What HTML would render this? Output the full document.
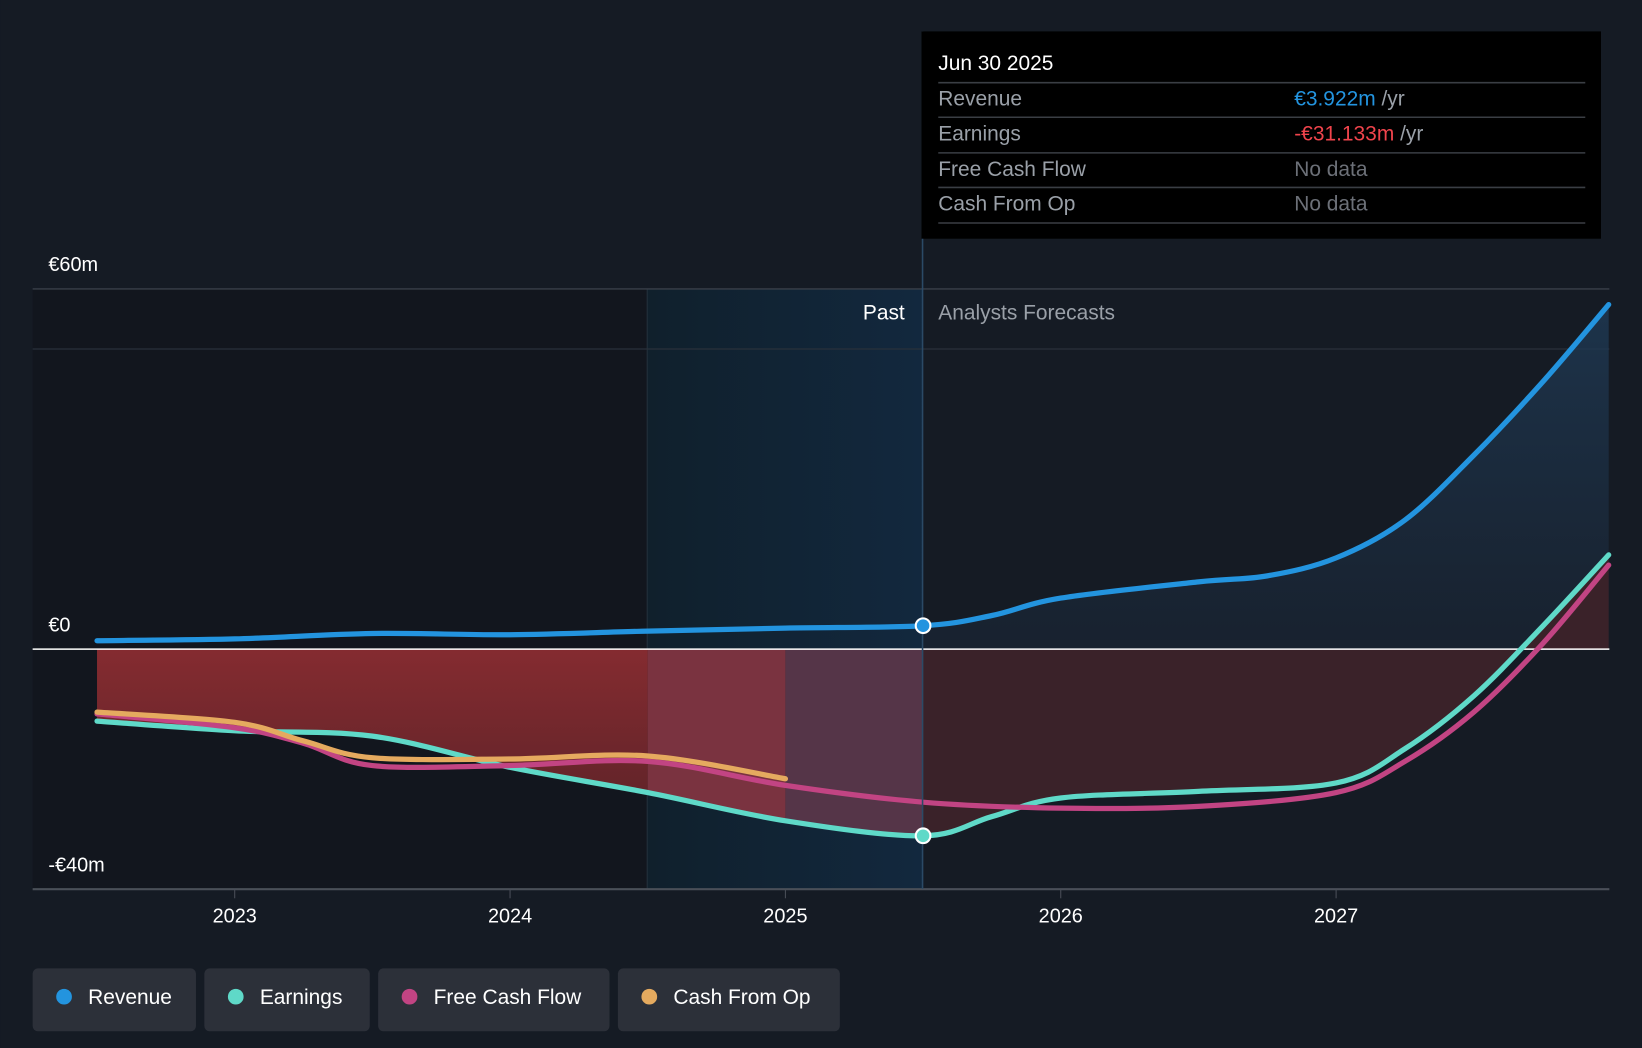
<!DOCTYPE html>
<html><head><meta charset="utf-8"><style>
html,body{margin:0;padding:0;background:#151b24;}
svg{display:block;font-family:"Liberation Sans",sans-serif;}
</style></head><body>
<svg id="chart" width="1642" height="1048" viewBox="0 0 1568 1001">
<defs>
<linearGradient id="redg" x1="0" y1="0" x2="0" y2="1"><stop offset="0" stop-color="#9a3034"/><stop offset="1" stop-color="#5a2228"/></linearGradient>
<linearGradient id="blueg" x1="0" y1="0" x2="0" y2="1"><stop offset="0" stop-color="#1f3a55" stop-opacity="0.8"/><stop offset="1" stop-color="#1a2636" stop-opacity="0.6"/></linearGradient>
<linearGradient id="hl" x1="0" y1="0" x2="1" y2="0"><stop offset="0" stop-color="#10202c"/><stop offset="1" stop-color="#12283e"/></linearGradient>
</defs>
<rect x="0" y="0" width="1568" height="1001" fill="#151b24"/>
<rect x="31" y="276" width="587" height="573" fill="#12161e"/>
<rect x="618" y="276" width="263" height="573" fill="url(#hl)"/>
<line x1="618" y1="276" x2="618" y2="849" stroke="#23303c"/>
<g id="grid"></g>
<g id="areas"></g>
<g id="lines"></g>
<line x1="881" y1="30" x2="881" y2="849" stroke="#2b4a66" stroke-width="1.5"/>
<g id="dots"></g>
<text x="864" y="305" fill="#ffffff" font-size="20" text-anchor="end">Past</text>
<text x="896" y="305" fill="#9aa0a8" font-size="20">Analysts Forecasts</text>
<g>
<rect x="880" y="30" width="649" height="198" fill="#000000"/>
<text x="896" y="67" fill="#ffffff" font-size="20">Jun 30 2025</text>
<line x1="896" y1="79" x2="1514" y2="79" stroke="#3a3e44" stroke-width="1.5"/>
<text x="896" y="101" fill="#9aa0a8" font-size="20">Revenue</text>
<text x="1236" y="101" font-size="20"><tspan fill="#2394df">€3.922m</tspan><tspan fill="#9aa0a8"> /yr</tspan></text>
<line x1="896" y1="112" x2="1514" y2="112" stroke="#3a3e44" stroke-width="1.5"/>
<text x="896" y="134" fill="#9aa0a8" font-size="20">Earnings</text>
<text x="1236" y="134" font-size="20"><tspan fill="#f0444c">-€31.133m</tspan><tspan fill="#9aa0a8"> /yr</tspan></text>
<line x1="896" y1="146" x2="1514" y2="146" stroke="#3a3e44" stroke-width="1.5"/>
<text x="896" y="168" fill="#9aa0a8" font-size="20">Free Cash Flow</text>
<text x="1236" y="168" fill="#6c7078" font-size="20">No data</text>
<line x1="896" y1="179" x2="1514" y2="179" stroke="#3a3e44" stroke-width="1.5"/>
<text x="896" y="201" fill="#9aa0a8" font-size="20">Cash From Op</text>
<text x="1236" y="201" fill="#6c7078" font-size="20">No data</text>
<line x1="896" y1="213" x2="1514" y2="213" stroke="#3a3e44" stroke-width="1.5"/>
</g>
<g id="legend"></g>
</svg>
<script>
const yearTicks=[2023,2024,2025,2026,2027];
const yTickVals=[60,0,-40];
const yTickLabels=["€60m","€0","-€40m"];
const revYears=[2022.5,2023,2023.5,2024,2024.5,2025,2025.5,2025.75,2026,2026.5,2026.75,2027,2027.25,2027.5,2027.75,2027.99];
const revVals=[1.4,1.7,2.6,2.4,3.0,3.5,3.9,5.6,8.5,11.2,12.2,15.2,21.5,32.3,44.5,57.4];
const earnYears=[2022.5,2023,2023.5,2024,2024.5,2025,2025.5,2025.75,2026,2026.5,2027,2027.25,2027.5,2027.75,2027.99];
const earnVals=[-12,-13.6,-14.5,-19.7,-23.9,-28.6,-31.1,-27.9,-24.8,-23.7,-22.3,-16.6,-7.8,3.8,15.7];
const fcfYears=[2022.5,2023,2023.25,2023.5,2024,2024.5,2025,2025.5,2026,2026.5,2027,2027.25,2027.5,2027.75,2027.99];
const fcfVals=[-10.8,-13.1,-15.7,-19.4,-19.4,-18.7,-22.7,-25.5,-26.5,-26.2,-23.9,-18.7,-10.5,0.9,14];
const cfoYears=[2022.5,2023,2023.25,2023.5,2024,2024.5,2025];
const cfoVals=[-10.5,-12.2,-15.3,-18.1,-18.3,-17.8,-21.6];
const X=y=>224+(y-2023)*263;
const Y=v=>620-v*(344/60);
const NS="http://www.w3.org/2000/svg";
function mk(tag,attrs,parent){const e=document.createElementNS(NS,tag);for(const k in attrs)e.setAttribute(k,attrs[k]);parent.appendChild(e);return e;}
function path(xs,vs){const p=xs.map((x,i)=>[X(x),Y(vs[i])]);let d="M"+p[0][0]+","+p[0][1];
for(let i=0;i<p.length-1;i++){const p0=p[i-1]||p[i],p1=p[i],p2=p[i+1],p3=p[i+2]||p2;
const c1=[p1[0]+(p2[0]-p0[0])/6,p1[1]+(p2[1]-p0[1])/6],c2=[p2[0]-(p3[0]-p1[0])/6,p2[1]-(p3[1]-p1[1])/6];
d+=` C${c1[0]},${c1[1]} ${c2[0]},${c2[1]} ${p2[0]},${p2[1]}`;}return d;}
const grid=document.getElementById('grid');
yTickVals.forEach((v,i)=>{
 if(v!==0){const l=mk('line',{x1:31,x2:1537,y1:Y(v),y2:Y(v),stroke:v<0?'#4a4f58':'#3a4049','stroke-width':v<0?2:1.3},grid);
 
 }
 const t=mk('text',{x:46,y:Y(v)-17,fill:'#ffffff','font-size':19},grid);t.textContent=yTickLabels[i];
 
 
});
const g50=mk('line',{x1:31,x2:1537,y1:Y(50),y2:Y(50),stroke:'#2a313b','stroke-width':1.2},grid);


yearTicks.forEach(yr=>{mk('line',{x1:X(yr),x2:X(yr),y1:849,y2:858,stroke:'#4a4f58'},grid);
 const t=mk('text',{x:X(yr),y:881,fill:'#ffffff','font-size':19,'text-anchor':'middle'},grid);t.textContent=yr;
 
 });
const areas=document.getElementById('areas');
// revenue forecast area
const ri=revYears.indexOf(2025.5);
const ra=mk('path',{d:path(revYears.slice(ri),revVals.slice(ri))+` L${X(revYears[revYears.length-1])},${Y(0)} L${X(2025.5)},${Y(0)} Z`,fill:'url(#blueg)'},areas);


// earnings area
const ea=mk('path',{d:path(earnYears,earnVals)+` L${X(earnYears[earnYears.length-1])},${Y(0)} L${X(earnYears[0])},${Y(0)} Z`,fill:'#3a2229'},areas);


const cp=mk('clipPath',{id:'pastclip'},areas);mk('rect',{x:0,y:0,width:X(2024.5),height:1001},cp);
const cp2=mk('clipPath',{id:'midclip'},areas);mk('rect',{x:X(2024.5),y:0,width:263*0.5,height:1001},cp2);
const cp3=mk('clipPath',{id:'lateclip'},areas);mk('rect',{x:X(2025),y:0,width:263*0.5,height:1001},cp3);
const fillD=path(earnYears,earnVals)+` L${X(earnYears[earnYears.length-1])},${Y(0)} L${X(earnYears[0])},${Y(0)} Z`;
const pa=mk('path',{d:fillD,fill:'url(#redg)','clip-path':'url(#pastclip)'},areas);


mk('path',{d:fillD,fill:'#7a3340','clip-path':'url(#midclip)'},areas);
mk('path',{d:fillD,fill:'#553548','clip-path':'url(#lateclip)'},areas);
mk('line',{x1:31,x2:1537,y1:Y(0),y2:Y(0),stroke:'#ffffff','stroke-width':1.5},areas);
const lines=document.getElementById('lines');
function line(xs,vs,col,name){const l=mk('path',{d:path(xs,vs),fill:'none',stroke:col,'stroke-width':5,'stroke-linecap':'round'},lines);
 
 }
line(earnYears,earnVals,'#5fd9c8','earnings-line');
line(fcfYears,fcfVals,'#c24483','free-cash-flow-line');
line(cfoYears,cfoVals,'#e5aa5f','cash-from-op-line');
line(revYears,revVals,'#2394df','revenue-line');
const dots=document.getElementById('dots');
const d1=mk('circle',{cx:X(2025.5),cy:Y(revVals[ri]),r:7,fill:'#2394df',stroke:'#fff','stroke-width':2},dots);


const d2=mk('circle',{cx:X(2025.5),cy:Y(earnVals[earnYears.indexOf(2025.5)]),r:7,fill:'#5fd9c8',stroke:'#fff','stroke-width':2},dots);


const leg=document.getElementById('legend');
const items=[["Revenue","#2394df",31,156],["Earnings","#5fd9c8",195,158],["Free Cash Flow","#c24483",361,221],["Cash From Op","#e5aa5f",590,212]];
items.forEach(([lab,col,x,w])=>{const g=mk('g',{},leg);
 
 
 mk('rect',{x:x,y:925,width:w,height:60,rx:5,fill:'#2c3039'},g);
 mk('circle',{cx:x+30,cy:952,r:7.5,fill:col},g);
 const t=mk('text',{x:x+53,y:959,fill:'#ffffff','font-size':20},g);t.textContent=lab;});
</script>
</body></html>
